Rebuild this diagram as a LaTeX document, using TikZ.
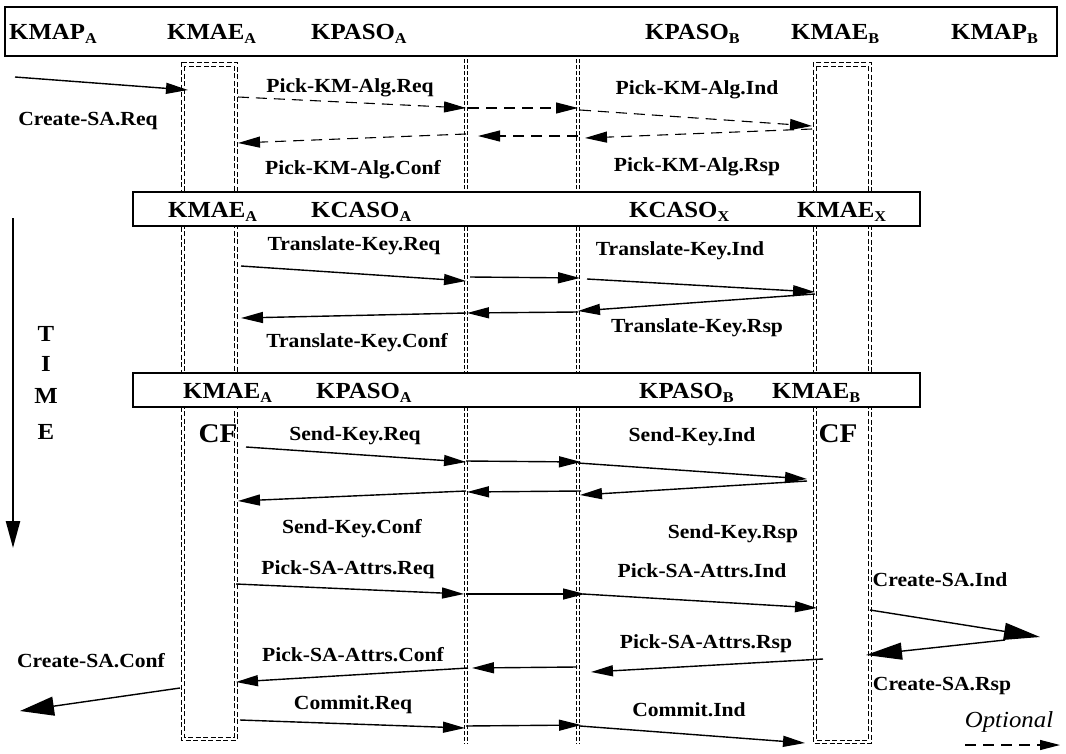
\documentclass[tikz,border=0pt]{standalone}
\usepackage{fontspec}
\setmainfont{Liberation Serif}[FakeStretch=1.08]
\usetikzlibrary{arrows.meta}
\newcommand\sbs[1]{\raisebox{-4pt}{\fontsize{15}{15}\selectfont #1}}
\newcommand\msgline[4][]{\coordinate (#2-s) at (#3); \coordinate (#2-e) at (#4); \draw[msg,#1] (#2-s) -- (#2-e);}
\begin{document}
\begin{tikzpicture}[x=1pt,y=-1pt,
 msg/.style={line width=1.4pt,-{Triangle[length=22pt,width=11pt]}},
 dmsg/.style={line width=1.1pt,dash pattern=on 11pt off 7pt},
 bighead/.style={-{Triangle[length=36pt,width=17pt]}},
 hdr/.style={font=\fontsize{23}{23}\selectfont\bfseries,anchor=base west,inner sep=0pt},
 lbl/.style={font=\fontsize{20}{20}\selectfont\bfseries,inner sep=0pt},
 bar/.style={draw,line width=1.5pt,fill=white},
 col/.style={dash pattern=on 5pt off 2.5pt,line width=0.6pt},
 life/.style={dash pattern=on 4pt off 2pt,line width=0.6pt},
]
\useasboundingbox (0,0) rectangle (1066,753);
% activation columns
\draw[col] (181,62) rectangle (237,740);
\draw[col] (184,66) rectangle (234,737);
\draw[col] (813,62) rectangle (871,743);
\draw[col] (816,66) rectangle (868,740);
% lifelines
\foreach \x in {464.5,467.5,576.5,579.5} \draw[life] (\x,59) -- (\x,744);
% header bars
\path[bar] (5,7) rectangle (1057,56);
\path[bar] (133,192) rectangle (920,226);
\path[bar] (133,373) rectangle (920,407);
% bar 1
\node[hdr] (h1a) at (9,39) {KMAP\sbs{A}};
\node[hdr] (h1b) at (167,39) {KMAE\sbs{A}};
\node[hdr] (h1c) at (311,39) {KPASO\sbs{A}};
\node[hdr] (h1d) at (645,39) {KPASO\sbs{B}};
\node[hdr] (h1e) at (791,39) {KMAE\sbs{B}};
\node[hdr] (h1f) at (951,39) {KMAP\sbs{B}};
% bar 2
\node[hdr] (h2a) at (168,217) {KMAE\sbs{A}};
\node[hdr] (h2b) at (311,217) {KCASO\sbs{A}};
\node[hdr] (h2c) at (629,217) {KCASO\sbs{X}};
\node[hdr] (h2d) at (797,217) {KMAE\sbs{X}};
% bar 3
\node[hdr] (h3a) at (183,398) {KMAE\sbs{A}};
\node[hdr] (h3b) at (316,398) {KPASO\sbs{A}};
\node[hdr] (h3c) at (639,398) {KPASO\sbs{B}};
\node[hdr] (h3d) at (772,398) {KMAE\sbs{B}};
% CF
\node[font=\fontsize{27}{27}\selectfont\bfseries,inner sep=0pt] (cfa) at (218,434) {CF};
\node[font=\fontsize{27}{27}\selectfont\bfseries,inner sep=0pt] (cfb) at (838,434) {CF};
% TIME
\node[font=\fontsize{23}{23}\selectfont\bfseries,inner sep=0pt] (tT) at (46,334) {T};
\node[font=\fontsize{23}{23}\selectfont\bfseries,inner sep=0pt] (tI) at (46,364) {I};
\node[font=\fontsize{23}{23}\selectfont\bfseries,inner sep=0pt] (tM) at (46,396) {M};
\node[font=\fontsize{23}{23}\selectfont\bfseries,inner sep=0pt] (tE) at (46,432) {E};
\coordinate (time-s) at (13,218);
\coordinate (time-e) at (13,548);
\draw[line width=2.4pt,-{Triangle[length=27pt,width=14pt]}] (time-s) -- (time-e);
% Pick-KM-Alg (dashed)
\msgline[dmsg]{pkr1}{238,97}{466,108}
\msgline[dmsg]{pkr2}{468,108}{578,108}
\msgline[dmsg]{pkr3}{580,110}{812,126}
\msgline[dmsg]{pkp1}{812,129}{585,138}
\msgline[dmsg]{pkp2}{578,136}{478,136}
\msgline[dmsg]{pkp3}{466,134}{238,143}
% Create-SA.Req
\msgline{csr}{15,77}{188,90}
% Translate-Key
\msgline{tkr1}{241,266}{466,281}
\msgline{tkr2}{470,277}{580,278}
\msgline{tkr3}{587,279}{815,292}
\msgline{tkp1}{815,294}{578,311}
\msgline{tkp2}{578,312}{467,313}
\msgline{tkp3}{466,313}{241,318}
% Send-Key
\msgline{skr1}{246,447}{466,462}
\msgline{skr2}{466,461}{581,462}
\msgline{skr3}{578,463}{807,479}
\msgline{skp1}{807,481}{580,495}
\msgline{skp2}{581,491}{467,492}
\msgline{skp3}{466,491}{238,501}
% Pick-SA-Attrs
\msgline{psr1}{236,584}{464,594}
\msgline{psr2}{466,594}{585,594}
\msgline{psr3}{583,594}{817,608}
\msgline[bighead]{csi}{870,610}{1040,637}
\msgline[bighead]{csp}{1005,640}{866,655}
\msgline{psp1}{823,659}{591,672}
\msgline{psp2}{577,667}{472,668}
\msgline{psp3}{468,668}{236,682}
\msgline[-{Triangle[length=34pt,width=19pt]}]{csc}{180,688}{20,711}
% Commit
\msgline{cmr1}{240,720}{465,728}
\msgline{cmr2}{466,726}{581,725}
\msgline{cmr3}{580,726}{805,743}
% legend
\msgline[dmsg,-{Triangle[length=20pt,width=10pt]}]{opt}{965,745}{1060,745}
\node[font=\fontsize{23}{23}\selectfont\itshape,inner sep=0pt] (optl) at (1009,722) {Optional};
% labels
\node[lbl] (l1) at (88,121) {Create-SA.Req};
\node[lbl] (l2) at (350,88) {Pick-KM-Alg.Req};
\node[lbl] (l3) at (697,90) {Pick-KM-Alg.Ind};
\node[lbl] (l4) at (353,170) {Pick-KM-Alg.Conf};
\node[lbl] (l5) at (697,167) {Pick-KM-Alg.Rsp};
\node[lbl] (l6) at (354,246) {Translate-Key.Req};
\node[lbl] (l7) at (680,251) {Translate-Key.Ind};
\node[lbl] (l8) at (357,343) {Translate-Key.Conf};
\node[lbl] (l9) at (697,328) {Translate-Key.Rsp};
\node[lbl] (l10) at (355,436) {Send-Key.Req};
\node[lbl] (l11) at (692,437) {Send-Key.Ind};
\node[lbl] (l12) at (352,529) {Send-Key.Conf};
\node[lbl] (l13) at (733,534) {Send-Key.Rsp};
\node[lbl] (l14) at (348,570) {Pick-SA-Attrs.Req};
\node[lbl] (l15) at (702,571) {Pick-SA-Attrs.Ind};
\node[lbl] (l16) at (940,580) {Create-SA.Ind};
\node[lbl] (l17) at (706,644) {Pick-SA-Attrs.Rsp};
\node[lbl] (l18) at (353,655) {Pick-SA-Attrs.Conf};
\node[lbl] (l19) at (91,661) {Create-SA.Conf};
\node[lbl] (l20) at (942,686) {Create-SA.Rsp};
\node[lbl] (l21) at (353,705) {Commit.Req};
\node[lbl] (l22) at (689,710) {Commit.Ind};
\end{tikzpicture}
\end{document}
